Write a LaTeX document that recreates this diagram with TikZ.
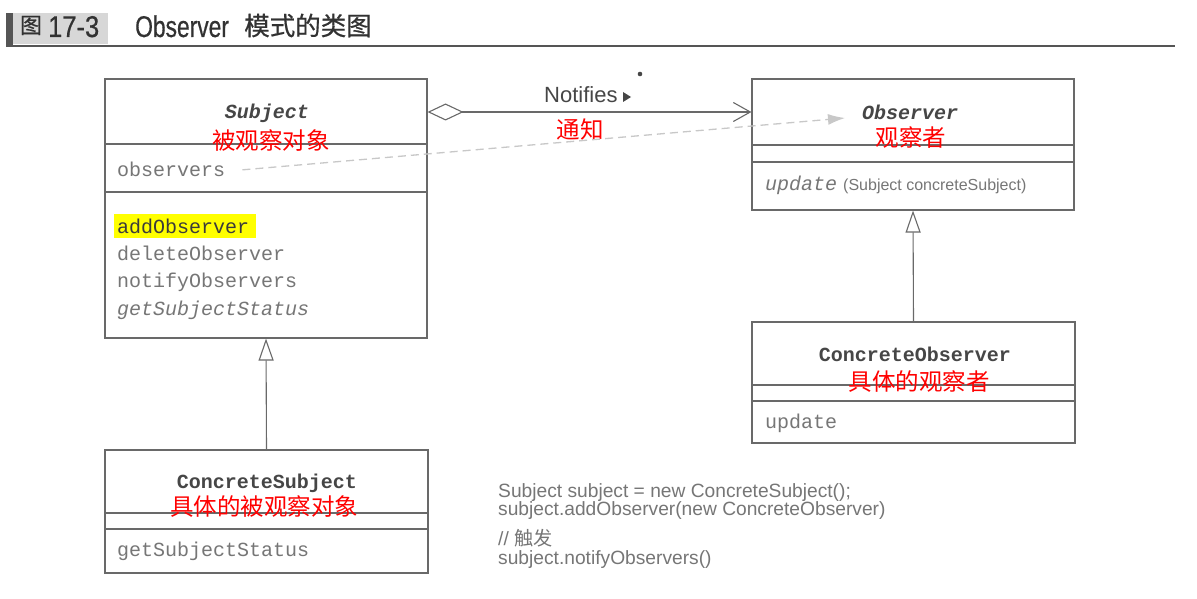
\documentclass[tikz,border=0pt]{standalone}
\usepackage{fontspec}
\setmainfont{Liberation Sans}
\setmonofont{Liberation Mono}
\newfontfamily\cjk{Noto Sans CJK SC}
\newfontfamily\cjkmed[FakeBold=0.6]{Noto Sans CJK SC}
\newfontfamily\hdrsans[FakeBold=0.6]{Liberation Sans}
\usetikzlibrary{arrows.meta}
\definecolor{linegray}{RGB}{105,105,105}
\definecolor{txtgray}{RGB}{118,118,118}
\definecolor{ttlgray}{RGB}{70,70,70}
\definecolor{hdrtext}{RGB}{50,50,50}
\definecolor{dashgray}{RGB}{200,200,200}
\definecolor{hdrgray}{RGB}{215,215,215}
\definecolor{hdrbar}{RGB}{85,85,85}
\definecolor{hilite}{RGB}{255,255,0}
\begin{document}
\begin{tikzpicture}[x=1pt,y=-1pt,
  classbox/.style={draw=linegray, line width=1.1pt, inner sep=0pt},
  member/.style={anchor=base west, inner sep=0pt, font=\ttfamily\fontsize{20}{20}\selectfont, text=txtgray},
  ctitle/.style={anchor=base, inner sep=0pt, font=\ttfamily\bfseries\fontsize{20}{20}\selectfont, text=ttlgray},
  redlbl/.style={inner sep=0pt, font=\cjk\fontsize{23.5}{23.5}\selectfont, text=red},
  divider/.style={draw=linegray, line width=1.1pt},
  codeline/.style={anchor=base west, inner sep=0pt, font=\fontsize{19.2}{19.2}\selectfont, text=txtgray},
  hdrtxt/.style={inner sep=0pt, text=hdrtext}
]
\useasboundingbox (0,0) rectangle (1197,599);
\fill[white] (0,0) rectangle (1197,599);

% header
\fill[hdrgray] (13,13) rectangle (108,44);
\fill[hdrbar] (6,13) rectangle (13,46);
\draw[hdrbar, line width=1.5pt] (6,46) -- (1175,46);
\node[hdrtxt, font=\cjkmed\fontsize{22}{22}\selectfont] (hfig) at (31,25.5) {图};
\node[hdrtxt, anchor=base west, font=\hdrsans\fontsize{30}{30}\selectfont] (hnum) at (48,37) {\scalebox{0.85}[1]{17-3}};
\node[hdrtxt, anchor=base west, font=\hdrsans\fontsize{30}{30}\selectfont] (hobs) at (135,37) {\scalebox{0.76}[1]{Observer}};
\node[hdrtxt, font=\cjkmed\fontsize{25.5}{25.5}\selectfont] (hcn) at (308,25.5) {模式的类图};

% class boxes
\node[classbox, minimum width=322pt, minimum height=259pt] (subj) at (266,208.5) {};
\node[classbox, minimum width=322pt, minimum height=131pt] (obs) at (913,144.5) {};
\node[classbox, minimum width=323pt, minimum height=121pt] (cobs) at (913.5,382.5) {};
\node[classbox, minimum width=323pt, minimum height=123pt] (csub) at (266.5,511.5) {};

% dividers
\draw[divider] (subj.west |- 0,144) -- (subj.east |- 0,144);
\draw[divider] (subj.west |- 0,192) -- (subj.east |- 0,192);
\draw[divider] (obs.west |- 0,145) -- (obs.east |- 0,145);
\draw[divider] (obs.west |- 0,162) -- (obs.east |- 0,162);
\draw[divider] (cobs.west |- 0,385) -- (cobs.east |- 0,385);
\draw[divider] (cobs.west |- 0,401) -- (cobs.east |- 0,401);
\draw[divider] (csub.west |- 0,513) -- (csub.east |- 0,513);
\draw[divider] (csub.west |- 0,529) -- (csub.east |- 0,529);

% Subject
\node[ctitle, font=\ttfamily\bfseries\itshape\fontsize{20}{20}\selectfont] (subjT) at (267,119) {Subject};
\node[redlbl] (subjR) at (271,141) {被观察对象};
\node[member] (mobs) at (117,177) {observers};
\fill[hilite] (114,214) rectangle (256,238);
\node[member, text=ttlgray!85!black] (madd) at (117,233) {addObserver};
\node[member] (mdel) at (117,260) {deleteObserver};
\node[member] (mnot) at (117,287) {notifyObservers};
\node[member, font=\ttfamily\itshape\fontsize{20}{20}\selectfont] (mget) at (117,315) {getSubjectStatus};

% Observer
\node[ctitle, font=\ttfamily\bfseries\itshape\fontsize{20}{20}\selectfont] (obsT) at (910,120) {Observer};
\node[redlbl] (obsR) at (911,138) {观察者};
\node[member, font=\ttfamily\itshape\fontsize{20}{20}\selectfont] (oupd) at (765,190) {update};
\node[member, font=\fontsize{16}{16}\selectfont] (oarg) at (843,190) {(Subject concreteSubject)};

% ConcreteObserver
\node[ctitle] (cobsT) at (915,361) {ConcreteObserver};
\node[redlbl] (cobsR) at (919,382) {具体的观察者};
\node[member] (cupd) at (765,428) {update};

% ConcreteSubject
\node[ctitle] (csubT) at (267,488) {ConcreteSubject};
\node[redlbl] (csubR) at (264,507) {具体的被观察对象};
\node[member] (cget) at (117,556) {getSubjectStatus};

% generalizations
\draw[linegray, line width=1.1pt, -{Triangle[open, length=22pt, width=15pt]}] (csub.north) -- (subj.south);
\draw[linegray, line width=1.1pt, -{Triangle[open, length=22pt, width=15pt]}] (cobs.north) -- (obs.south);

% aggregation
\draw[linegray, line width=1.1pt, {Diamond[open, length=36pt, width=17pt]}-{Straight Barb[length=17pt, width=19pt]}] (subj.east |- 0,112) -- (obs.west |- 0,112);
\node[anchor=base west, inner sep=0pt, font=\fontsize{22}{22}\selectfont, text=ttlgray] (notif) at (544,103) {Notifies};
\fill[ttlgray] (623,92) -- (631,97) -- (623,102) -- cycle;
\fill[ttlgray] (640,74) circle (2.3pt);
\node[redlbl] (tongzhi) at (580,130) {通知};

% dashed reference
\coordinate (dashend) at (845,118);
\draw[dashgray, line width=1.3pt, dash pattern=on 8pt off 5pt, -{Latex[length=17pt, width=11pt]}] ([xshift=17pt]mobs.east) -- (dashend);

% code
\node[codeline] (c1) at (498,497) {Subject subject = new ConcreteSubject();};
\node[codeline] (c2) at (498,515) {subject.addObserver(new ConcreteObserver)};
\node[codeline] (c3) at (498,545) {// {\cjk 触发}};
\node[codeline] (c4) at (498,564) {subject.notifyObservers()};
\end{tikzpicture}
\end{document}
